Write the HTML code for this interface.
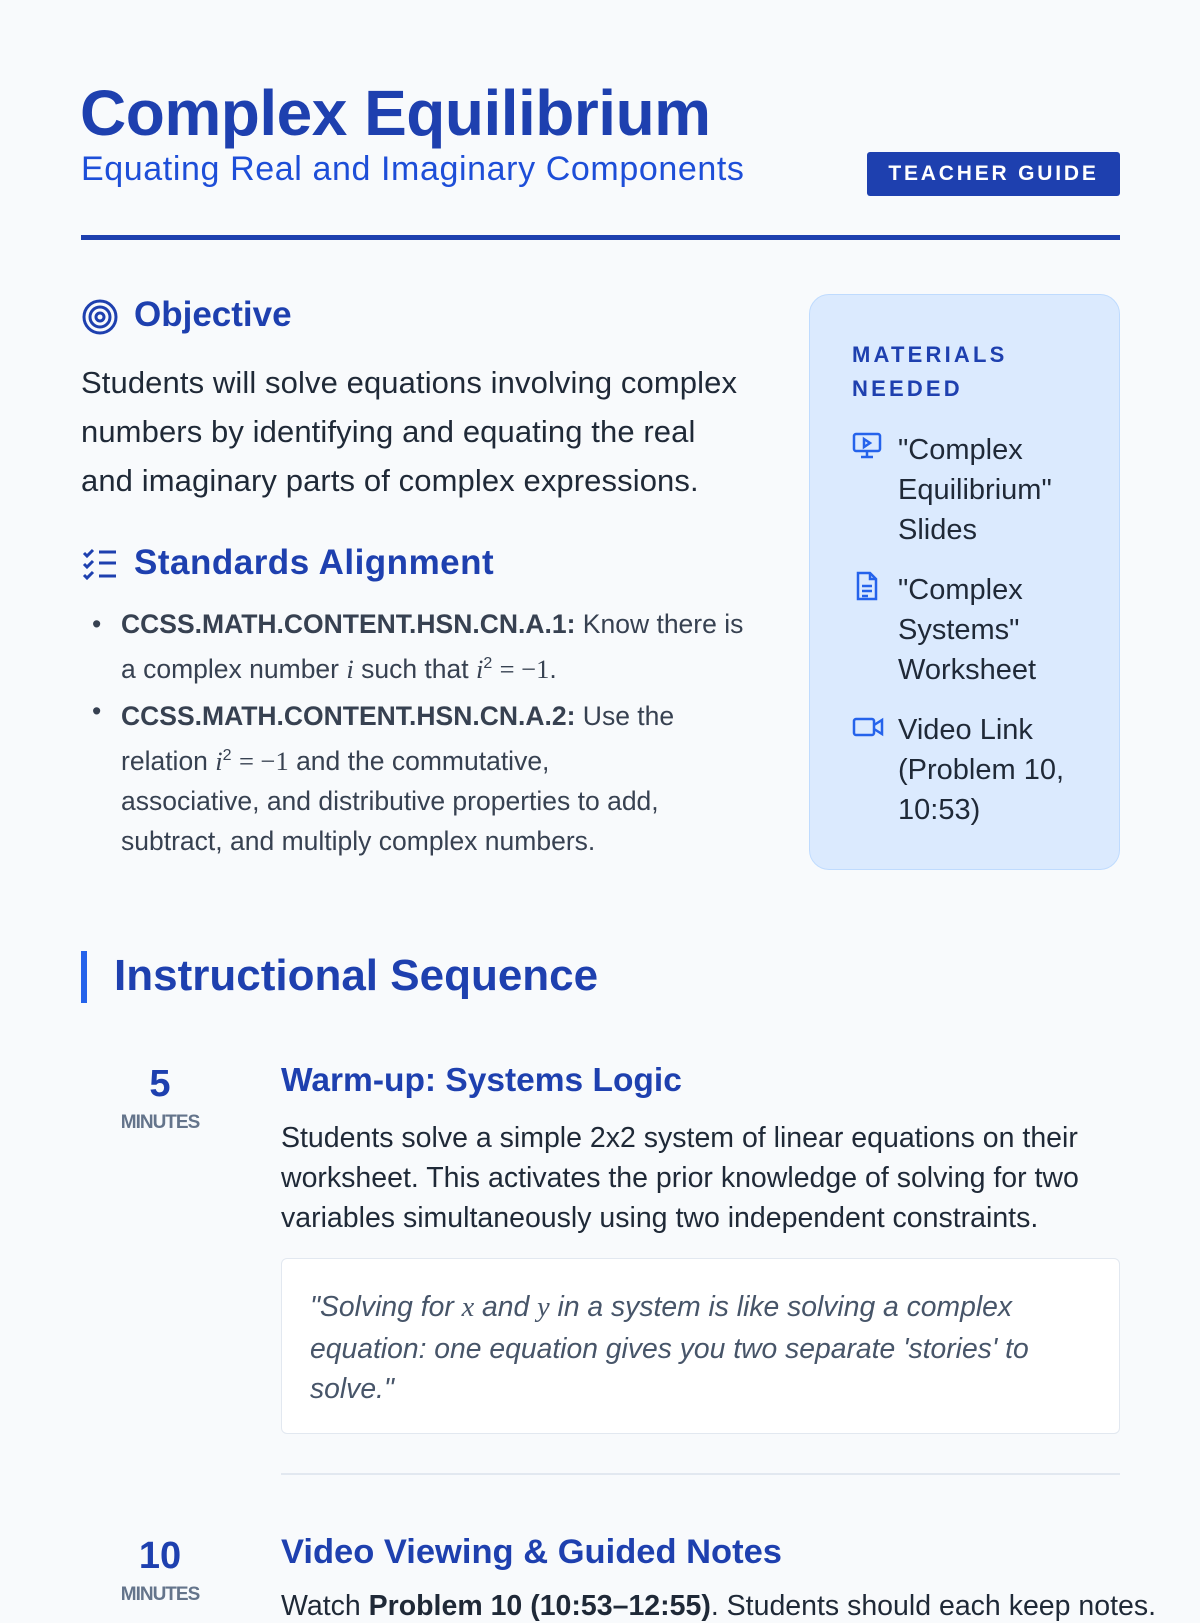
<!DOCTYPE html>
<html><head><meta charset="utf-8"><style>
*{margin:0;padding:0;box-sizing:border-box}
body{width:1200px;height:1600px;background:#f8fafc;font-family:"Liberation Sans",sans-serif;position:relative;overflow:hidden;color:#1f2937}
.a{position:absolute;white-space:nowrap}
.blue{color:#1e40af}
i.m{font-family:"Liberation Serif",serif;font-style:italic}
.mm{font-family:"Liberation Serif",serif}
</style></head><body>
<div class="a blue" style="left:80px;top:76px;font-size:64px;font-weight:bold;letter-spacing:-0.5px">Complex Equilibrium</div>
<div class="a" style="left:81px;top:150px;font-size:34px;letter-spacing:0.6px;color:#1d4ed8">Equating Real and Imaginary Components</div>
<div class="a" style="left:867px;top:152px;width:253px;height:44px;background:#1e40af;border-radius:3px;color:#fff;font-size:21px;font-weight:bold;letter-spacing:2.8px;text-align:center;line-height:44px">TEACHER GUIDE</div>
<div class="a" style="left:81px;top:235px;width:1039px;height:5px;background:#1e40af"></div>

<svg class="a" style="left:81px;top:298px" width="38" height="38" viewBox="0 0 38 38" fill="none" stroke="#1e40af" stroke-width="3"><circle cx="19" cy="19" r="16"/><circle cx="19" cy="19" r="10"/><circle cx="19" cy="19" r="4"/></svg>
<div class="a blue" style="left:134px;top:295px;font-size:35px;font-weight:bold">Objective</div>
<div class="a" style="left:81px;top:358px;font-size:31px;line-height:49px;color:#1f2937;letter-spacing:0.1px">Students will solve equations involving complex<br>numbers by identifying and equating the real<br>and imaginary parts of complex expressions.</div>

<svg class="a" style="left:82px;top:548px" width="36" height="32" viewBox="0 0 36 32" fill="none" stroke="#1e40af" stroke-width="3"><path d="M2 5l3 3 6-6M2 16l3 3 6-6M2 27l3 3 6-6"/><path d="M17 4h17M17 15h17M17 28h17"/></svg>
<div class="a blue" style="left:134px;top:543px;font-size:35px;font-weight:bold;letter-spacing:0.5px">Standards Alignment</div>
<div class="a" style="left:92px;top:604px;font-size:26.5px;line-height:40px;color:#374151">
<span style="position:absolute;left:0;top:0">•</span><span style="position:absolute;left:0;top:87px">•</span>
<div style="margin-left:29px"><b>CCSS.MATH.CONTENT.HSN.CN.A.1:</b> Know there is<br>a complex number <i class="m">i</i> such that <i class="m">i</i><sup style="font-size:16px">2</sup> <span class="mm">= −1</span>.</div>
<div style="margin-left:29px;margin-top:7px"><b>CCSS.MATH.CONTENT.HSN.CN.A.2:</b> Use the<br>relation <i class="m">i</i><sup style="font-size:16px">2</sup> <span class="mm">= −1</span> and the commutative,<br>associative, and distributive properties to add,<br>subtract, and multiply complex numbers.</div>
</div>

<div class="a" style="left:809px;top:294px;width:311px;height:576px;background:#dbeafe;border:1.5px solid #bfdbfe;border-radius:20px"></div>
<div class="a blue" style="left:852px;top:338px;font-size:22px;font-weight:bold;letter-spacing:3.2px;line-height:34px">MATERIALS<br>NEEDED</div>
<svg class="a" style="left:852px;top:432px" width="30" height="28" viewBox="0 0 30 28" fill="none" stroke="#2563eb" stroke-width="2.5"><rect x="2" y="2" width="26" height="17" rx="2"/><path d="M15 19v5M9 25h12M12 7l6 4-6 4z"/></svg>
<svg class="a" style="left:855px;top:571px" width="24" height="30" viewBox="0 0 24 30" fill="none" stroke="#2563eb" stroke-width="2.5"><path d="M3 2h12l6 6v20H3z"/><path d="M15 2v6h6M7 15h10M7 20h10M7 25h6"/></svg>
<svg class="a" style="left:852px;top:716px" width="32" height="22" viewBox="0 0 32 22" fill="none" stroke="#2563eb" stroke-width="2.5"><rect x="2" y="3" width="20" height="16" rx="2"/><path d="M22 9l8-5v14l-8-5"/></svg>
<div class="a" style="left:898px;top:430px;font-size:29px;line-height:40px;color:#1f2937">"Complex<br>Equilibrium"<br>Slides</div>
<div class="a" style="left:898px;top:570px;font-size:29px;line-height:40px;color:#1f2937">"Complex<br>Systems"<br>Worksheet</div>
<div class="a" style="left:898px;top:710px;font-size:29px;line-height:40px;color:#1f2937">Video Link<br>(Problem 10,<br>10:53)</div>

<div class="a" style="left:81px;top:951px;width:6px;height:52px;background:#2563eb"></div>
<div class="a blue" style="left:114px;top:951px;font-size:44px;font-weight:bold">Instructional Sequence</div>

<div class="a blue" style="left:110px;top:1063px;width:100px;text-align:center;font-size:38px;font-weight:bold">5</div>
<div class="a" style="left:110px;top:1112px;width:100px;text-align:center;font-size:19px;color:#64748b;letter-spacing:-1px;font-weight:bold">MINUTES</div>
<div class="a blue" style="left:281px;top:1062px;font-size:33.5px;font-weight:bold">Warm-up: Systems Logic</div>
<div class="a" style="left:281px;top:1118px;font-size:28.5px;line-height:40px;color:#1f2937">Students solve a simple 2x2 system of linear equations on their<br>worksheet. This activates the prior knowledge of solving for two<br>variables simultaneously using two independent constraints.</div>
<div class="a" style="left:281px;top:1258px;width:839px;height:176px;background:#fff;border:1.5px solid #e2e8f0;border-radius:6px"></div>
<div class="a" style="left:310px;top:1286px;font-size:28.3px;line-height:40px;font-style:italic;color:#475569">"Solving for <i class="m">x</i> and <i class="m">y</i> in a system is like solving a complex<br>equation: one equation gives you two separate 'stories' to<br>solve."</div>
<div class="a" style="left:281px;top:1473px;width:839px;height:2px;background:#e2e8f0"></div>

<div class="a blue" style="left:110px;top:1535px;width:100px;text-align:center;font-size:38px;font-weight:bold">10</div>
<div class="a" style="left:110px;top:1584px;width:100px;text-align:center;font-size:19px;color:#64748b;letter-spacing:-1px;font-weight:bold">MINUTES</div>
<div class="a blue" style="left:281px;top:1533px;font-size:34.5px;font-weight:bold">Video Viewing &amp; Guided Notes</div>
<div class="a" style="left:281px;top:1590px;font-size:28.5px;color:#1f2937">Watch <b>Problem 10 (10:53–12:55)</b>. Students should each keep notes.</div>
</body></html>
